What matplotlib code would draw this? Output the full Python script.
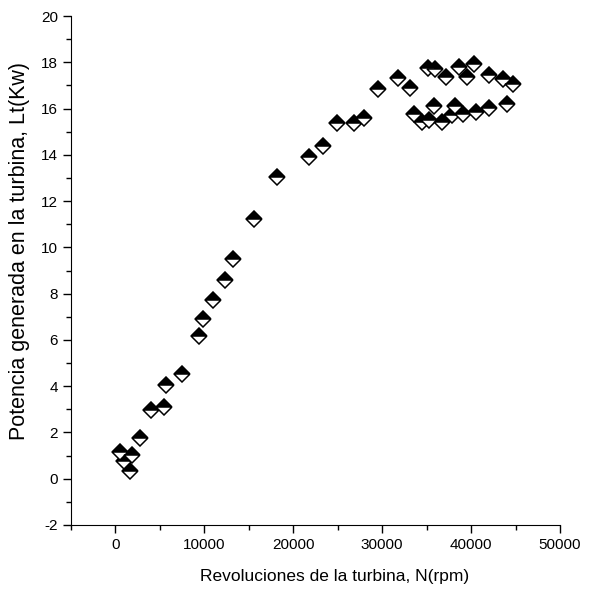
import matplotlib
matplotlib.use("Agg")
import matplotlib.pyplot as plt
from matplotlib.ticker import MultipleLocator

plt.rcParams['font.family'] = ['Liberation Sans', 'DejaVu Sans']
plt.rcParams['axes.unicode_minus'] = False

# revoluciones (rpm) y potencia (kW)
rpm = [480, 930, 1870, 1610, 2740, 4050, 5470, 5630, 7500, 9380,
       9800, 11000, 12300, 13250, 15600, 18130, 21800, 23300, 24900, 26840,
       27900, 29570, 31830, 33140, 35200, 35900, 37160, 38660, 40350, 39530,
       42070, 43540, 44660,
       33590, 34500, 35300, 35840, 36700, 37900, 38200, 39070, 40570, 41960,
       44030]
potencia = [1.17, 0.75, 1.04, 0.32, 1.77, 2.98, 3.12, 4.06, 4.52, 6.19,
            6.91, 7.73, 8.57, 9.49, 11.23, 13.06, 13.90, 14.40, 15.37, 15.39,
            15.58, 16.83, 17.31, 16.90, 17.74, 17.70, 17.35, 17.78, 17.93, 17.35,
            17.45, 17.27, 17.06,
            15.77, 15.43, 15.50, 16.11, 15.43, 15.72, 16.11, 15.77, 15.87, 16.01,
            16.20]

fig = plt.figure(figsize=(6.05, 6.04), dpi=100)
ax = fig.add_axes([71/605, 1-525/604, (560-71)/605, (525-16)/604])

ax.plot(rpm, potencia, linestyle='none', marker='D', markersize=8.5,
        fillstyle='top', markerfacecolor='black', markerfacecoloralt='white',
        markeredgecolor='black', markeredgewidth=1.1)

ax.set_xlim(-5000, 50000)
ax.set_ylim(-2, 20)
ax.xaxis.set_major_locator(MultipleLocator(10000))
ax.xaxis.set_minor_locator(MultipleLocator(5000))
ax.yaxis.set_major_locator(MultipleLocator(2))
ax.yaxis.set_minor_locator(MultipleLocator(1))
ax.spines['top'].set_visible(False)
ax.spines['right'].set_visible(False)
ax.tick_params(which='major', direction='out', length=6, width=1, labelsize=11)
ax.tick_params(which='minor', direction='out', length=3.5, width=1)

ax.set_xlabel('Revoluciones de la turbina, N(rpm)', fontsize=12.5)
ax.set_ylabel('Potencia generada en la turbina, Lt(Kw)', fontsize=15.5)
ax.xaxis.set_label_coords(0.538, -0.086)
ax.yaxis.set_label_coords(-0.083, 0.538)

fig.savefig('out.png', dpi=100)
